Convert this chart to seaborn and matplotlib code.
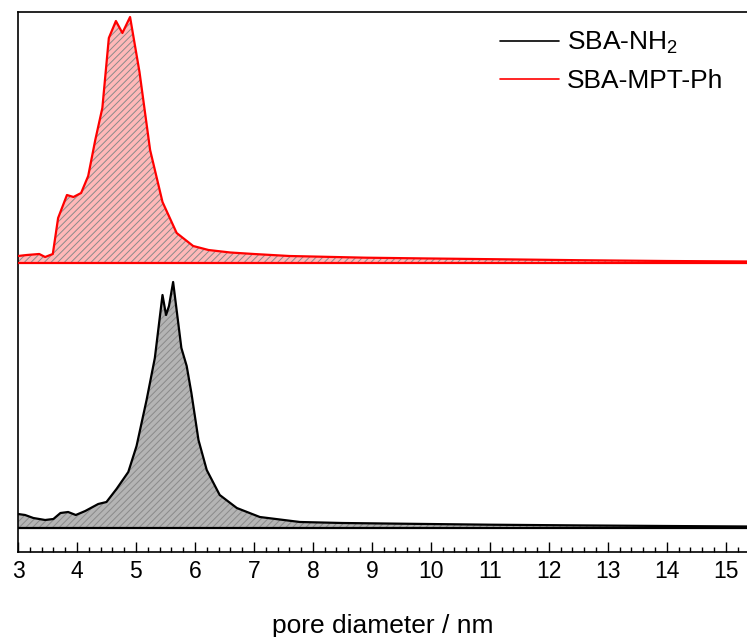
import numpy as np
import pandas as pd
import seaborn as sns
import matplotlib.pyplot as plt
from matplotlib.ticker import MultipleLocator
from matplotlib.lines import Line2D

# Pore size distributions (dV/dD, arbitrary units)
pore_d_nh2 = [3.00, 3.12, 3.26, 3.46, 3.60, 3.72, 3.85, 3.98, 4.14, 4.36, 4.50,
              4.67, 4.87, 5.01, 5.18, 5.32, 5.45, 5.51, 5.56, 5.63, 5.77, 5.86,
              5.94, 6.06, 6.20, 6.42, 6.71, 7.10, 7.78, 8.50, 9.50, 11.0, 12.5,
              14.0, 15.4]
dv_nh2 = [0.14, 0.13, 0.10, 0.08, 0.09, 0.15, 0.16, 0.13, 0.17, 0.24, 0.26,
          0.39, 0.56, 0.82, 1.28, 1.70, 2.33, 2.13, 2.22, 2.46, 1.80, 1.62,
          1.35, 0.88, 0.58, 0.33, 0.20, 0.11, 0.06, 0.05, 0.043, 0.033, 0.026,
          0.020, 0.015]

pore_d_mpt = [3.00, 3.15, 3.36, 3.46, 3.59, 3.68, 3.83, 3.94, 4.07, 4.19, 4.31,
              4.43, 4.54, 4.66, 4.77, 4.90, 5.06, 5.24, 5.45, 5.69, 5.97, 6.23,
              6.60, 7.00, 7.60, 8.90, 10.0, 11.2, 12.5, 14.0, 15.4]
dv_mpt = [0.07, 0.08, 0.09, 0.06, 0.09, 0.45, 0.68, 0.66, 0.70, 0.87, 1.23,
          1.55, 2.25, 2.42, 2.30, 2.46, 1.91, 1.13, 0.61, 0.30, 0.17, 0.13,
          0.105, 0.09, 0.07, 0.053, 0.045, 0.037, 0.028, 0.020, 0.015]

mpt_offset = 2.65
labels = ["SBA-NH$_2$", "SBA-MPT-Ph"]
line_colors = {"SBA-NH$_2$": "black", "SBA-MPT-Ph": "#ff0000"}
fill_colors = {"SBA-NH$_2$": "#b4b4b4", "SBA-MPT-Ph": "#ffb8b8"}

df = pd.concat([
    pd.DataFrame({"d": pore_d_nh2, "v": np.array(dv_nh2), "sample": labels[0]}),
    pd.DataFrame({"d": pore_d_mpt, "v": np.array(dv_mpt) + mpt_offset, "sample": labels[1]}),
])

sns.set_theme(style="ticks")
plt.rcParams["font.family"] = ["Liberation Sans", "DejaVu Sans"]
plt.rcParams["mathtext.default"] = "regular"
plt.rcParams["hatch.linewidth"] = 0.7
plt.rcParams["text.color"] = "black"
plt.rcParams["axes.labelcolor"] = "black"

fig = plt.figure(figsize=(7.47, 6.37), dpi=100)
ax = fig.add_axes([18 / 747, 85 / 637, 729 / 747, 540 / 637])

# hatched areas down to each baseline
for lab, base in zip(labels, [0.0, mpt_offset]):
    sub = df[df["sample"] == lab]
    ax.fill_between(sub["d"], sub["v"], base, facecolor=fill_colors[lab],
                    edgecolor="#8a8a8a", hatch="/////", linewidth=0, zorder=1)
    ax.axhline(base, color=line_colors[lab], lw=1.6, zorder=3)

sns.lineplot(data=df, x="d", y="v", hue="sample", palette=line_colors,
             sort=False, estimator=None, legend=False, lw=1.6, ax=ax, zorder=4)

ax.set_xlim(3, 15.36)
ax.set_ylim(-0.24, 5.16)
ax.xaxis.set_major_locator(MultipleLocator(1))
ax.xaxis.set_minor_locator(MultipleLocator(0.2))
ax.tick_params(axis="x", which="major", direction="in", length=7, width=1,
               labelsize=16.5, pad=6, colors="black")
ax.tick_params(axis="x", which="minor", direction="in", length=3.5, width=1,
               colors="black")
ax.set_yticks([])
ax.set_xlabel("pore diameter / nm", fontsize=19, labelpad=22)
ax.set_ylabel("")

for s in ["left", "top", "bottom"]:
    ax.spines[s].set_linewidth(1.2)
    ax.spines[s].set_color("black")
ax.spines["right"].set_visible(False)

handles = [Line2D([], [], color=line_colors[l], lw=1.2) for l in labels]
ax.legend(handles, labels, loc="upper left", bbox_to_anchor=(500 / 747, 1 - 30 / 637),
          bbox_transform=fig.transFigure, frameon=False, fontsize=19,
          handlelength=2.25, handletextpad=0.3, labelspacing=0.5, borderaxespad=0,
          borderpad=0)

fig.savefig("out.png", dpi=100)
